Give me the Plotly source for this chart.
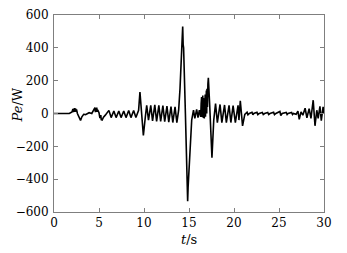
import plotly.graph_objects as go

# time (s) and electrical power (W)
t = [0, 1.7, 2.0, 2.1, 2.15, 2.2, 2.25, 2.3, 2.35, 2.4, 2.45, 2.5, 2.6, 2.8, 2.95, 3.1,
     3.3, 3.5, 3.7, 3.9, 4.2, 4.45, 4.55, 4.6, 4.65, 4.7, 4.75, 4.8, 4.85, 5.0, 5.1,
     5.2, 5.25, 5.35, 5.5, 5.7, 6.1, 6.35, 6.65, 6.9, 7.2, 7.45,
     7.75, 8.0, 8.3, 8.55, 8.85, 9.1, 9.4, 9.55, 9.75, 9.93, 10.15, 10.3, 10.5,
     10.75, 10.95, 11.2, 11.4, 11.65, 11.85, 12.1, 12.3, 12.55, 12.75, 13.0, 13.2,
     13.45, 13.65, 13.85, 14.0, 14.2, 14.25, 14.3, 14.35, 14.4, 14.6, 14.8, 14.85,
     14.9, 15.05, 15.3, 15.5, 15.65, 15.85, 16.0, 16.15, 16.3, 16.35, 16.4, 16.43,
     16.47, 16.5, 16.53, 16.57, 16.6, 16.63, 16.67, 16.7, 16.73, 16.77, 16.8, 16.83,
     16.87, 16.9, 16.93, 16.97, 17.0, 17.05, 17.1, 17.15, 17.3, 17.5, 17.55, 17.75,
     17.95, 18.15, 18.45, 18.65, 18.95, 19.15, 19.45, 19.65,
     19.9, 20.15, 20.45, 20.55, 20.7, 20.95, 21.2, 21.45, 21.55, 21.7, 22.0, 22.1,
     22.2, 22.55, 22.65, 22.8, 23.15, 23.25, 23.4, 23.75, 23.85, 24.0, 24.4, 24.5,
     24.65, 25.1, 25.2, 25.35, 25.8, 25.9, 26.0, 26.4, 26.5, 26.6, 26.9, 27.1, 27.25,
     27.45, 27.65, 27.9, 28.1, 28.35, 28.55, 28.8, 29.0, 29.2, 29.35, 29.55, 29.7,
     29.9, 30.0]
pe = [0, 0, 10, 28, 8, 30, 10, 33, 12, 30, 10, 25, 0, -30, -42, -20,
      -5, -7, 0, 5, 0, 20, 36, 8, 34, 10, 36, 10, 22, 5, -28,
      -10, -38, -40, -22, -10, 19, -25, 15, -25, 15, -25,
      15, -25, 18, -25, 18, -25, 20, 130, 0, -134, -20, 50, -40,
      50, -45, 52, -48, 50, -48, 48, -50, 45, -52, 42, -55,
      40, -56, 20, 150, 420, 380, 530, 420, 400, 0, -480, -534,
      -450, -300, -40, 20, -30, 25, -25, 20, -20, 60, 100, -15,
      105, -20, 110, -25, 95, -28, 90, -30, 100, -30, 115, -20,
      120, -10, 140, 0, 150, 40, 180, 218, 50, -230, -270, -40,
      60, -56, 55, -56, 52, -56, 50, -55,
      48, -55, 50, -40, 78, -75, -5, 8, -8, 0, 7, -7,
      0, 7, -7, 0, 6, -6, 0, 6, -6, 0, 7, -7,
      0, 12, -12, 0, 6, -6, 0, 6, -6, 0, -5, 15, -35,
      10, -10, 32, -26, 30, -30, 81, -75, 20, -30, 44, -44,
      40, 0]

x_ticks = [0, 5, 10, 15, 20, 25, 30]
y_ticks = [-600, -400, -200, 0, 200, 400, 600]

SERIF = "DejaVu Serif"

fig = go.Figure()
fig.add_trace(go.Scatter(x=t, y=pe, mode="lines",
                         line=dict(color="black", width=1.6),
                         showlegend=False, hoverinfo="skip"))

axis_common = dict(showgrid=False, zeroline=False, showline=True, mirror="ticks",
                   linecolor="#7f7f7f", linewidth=1, ticks="inside", ticklen=4,
                   tickcolor="#7f7f7f", tickwidth=1,
                   tickfont=dict(family=SERIF, size=12, color="black"))

fig.update_xaxes(range=[0, 30], tickvals=x_ticks, ticktext=[str(v) for v in x_ticks],
                 **axis_common)
fig.update_yaxes(range=[-600, 600], tickvals=y_ticks,
                 ticktext=[("\u2212" + str(-v)) if v < 0 else str(v) for v in y_ticks],
                 ticklabelstandoff=2, **axis_common)

fig.add_annotation(text="<i>Pe</i>/W", xref="paper", yref="paper",
                   x=-0.135, y=0.544, textangle=-90, showarrow=False,
                   font=dict(family=SERIF, size=13, color="black"),
                   xanchor="center", yanchor="middle")
fig.add_annotation(text="<i>t</i>/s", xref="paper", yref="paper",
                   x=0.5, y=-0.14, showarrow=False,
                   font=dict(family=SERIF, size=13, color="black"),
                   xanchor="center", yanchor="middle")

fig.update_layout(width=347, height=253, plot_bgcolor="white", paper_bgcolor="white",
                  margin=dict(l=54, r=23, t=8.5, b=40.5))

fig.write_html("out.html", config={"displayModeBar": False},
               post_script="document.body.style.margin='0';document.body.style.padding='0';")
